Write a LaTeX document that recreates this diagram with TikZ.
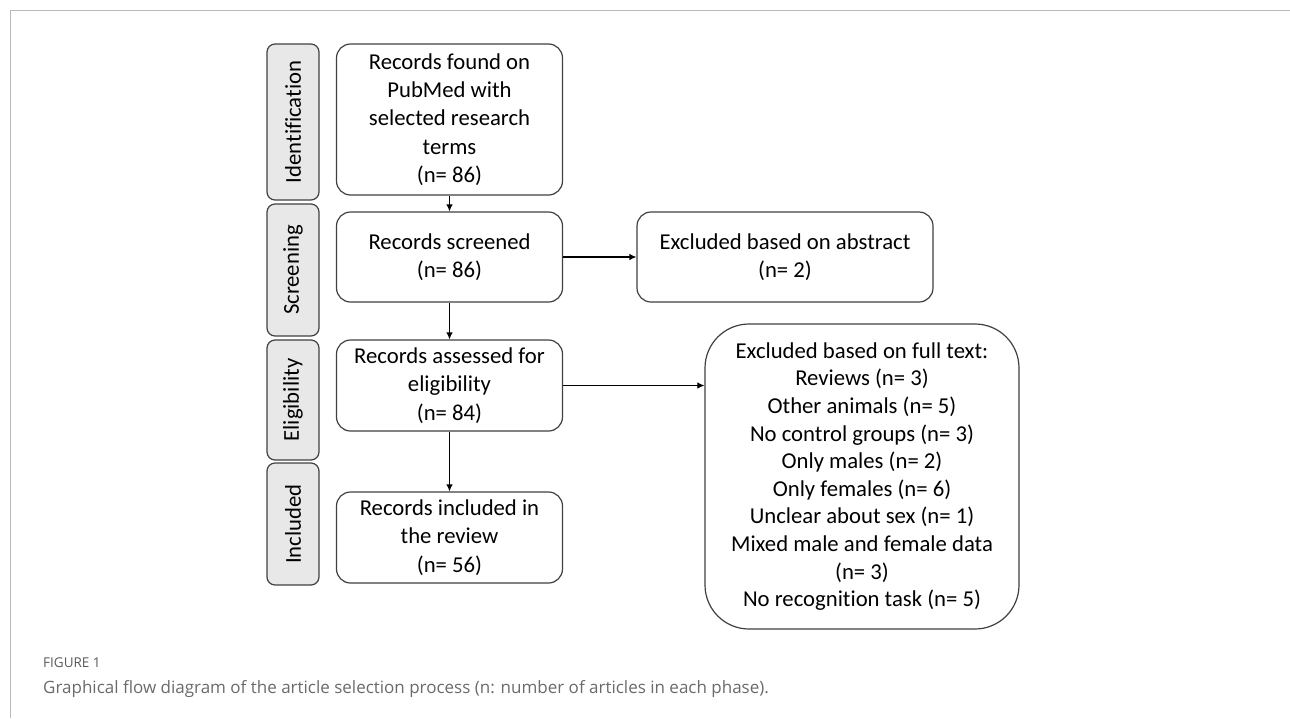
\documentclass[tikz,border=0pt]{standalone}
\usepackage{fontspec}
\setmainfont{Carlito}[Ligatures={NoCommon}]
\newfontfamily\capfont{Open Sans}
\usetikzlibrary{arrows.meta}
\definecolor{edge}{HTML}{404040}
\definecolor{capgray}{HTML}{6A6A6A}
\tikzset{
  box/.style={draw=edge, line width=1.2pt, rounded corners=14pt, fill=white,
    align=center, inner sep=0pt, font=\fontsize{22.7}{28.3}\selectfont},
  side/.style={draw=edge, line width=1.2pt, rounded corners=8pt, fill=gray!18,
    inner sep=0pt},
  sidetext/.style={rotate=90, font=\fontsize{22.7}{26}\selectfont},
  arr/.style={draw=black, line width=1.1pt, -{Latex[length=7pt,width=6.5pt]}},
  frame/.style={draw=gray!55, line width=1pt}
}
\begin{document}
\begin{tikzpicture}[x=1pt,y=-1pt]
\useasboundingbox (0,0) rectangle (1290,718);
\draw[frame] (10,718) -- (10,10) -- (1290,10);
% side labels
\node[side, minimum width=52pt, minimum height=156pt] (sid) at (293,122) {};
\node[sidetext] (sidt) at (sid.center) {Identification};
\node[side, minimum width=52pt, minimum height=132pt] (sscr) at (293,270) {};
\node[sidetext] (sscrt) at (sscr.center) {Screening};
\node[side, minimum width=52pt, minimum height=120pt] (seli) at (293,400) {};
\node[sidetext] (selit) at (seli.center) {Eligibility};
\node[side, minimum width=52pt, minimum height=122pt] (sinc) at (293,524) {};
\node[sidetext] (sinct) at (sinc.center) {Included};
% main boxes
\node[box, minimum width=226pt, minimum height=151pt] (b1) at (449.5,119.5)
  {Records found on\\PubMed with\\selected research\\terms\\(n= 86)};
\node[box, minimum width=226pt, minimum height=90pt] (b2) at (449.5,257)
  {Records screened\\(n= 86)};
\node[box, minimum width=226pt, minimum height=91pt] (b3) at (449.5,385.5)
  {Records assessed for\\eligibility\\(n= 84)};
\node[box, minimum width=226pt, minimum height=91pt] (b4) at (449.5,537.5)
  {Records included in\\the review\\(n= 56)};
\node[box, minimum width=296pt, minimum height=90pt] (ab) at (785,257)
  {Excluded based on abstract\\(n= 2)};
\node[box, rounded corners=44pt, minimum width=314pt, minimum height=305pt,
  font=\fontsize{22.7}{27.6}\selectfont] (ft) at (862,476.5)
  {Excluded based on full text:\\Reviews (n= 3)\\Other animals (n= 5)\\No control groups (n= 3)\\Only males (n= 2)\\Only females (n= 6)\\Unclear about sex (n= 1)\\Mixed male and female data\\(n= 3)\\No recognition task (n= 5)};
% connectors
\draw[arr] (b1) -- (b2);
\draw[arr] (b2) -- (ab);
\draw[arr] (b2) -- (b3);
\draw[arr] (b3) -- (b4);
\draw[arr] (b3.east) -- (b3.east -| ft.west);
% caption
\node[anchor=base west, inner sep=0pt, text=capgray!85!black, font=\capfont\fontsize{13.5}{16}\selectfont] (fig) at (43,667) {FIGURE 1};
\node[anchor=base west, inner sep=0pt, text=capgray, font=\capfont\fontsize{17}{22}\selectfont] (cap) at (43,693)
  {Graphical flow diagram of the article selection process (n: number of articles in each phase).};
\end{tikzpicture}
\end{document}
